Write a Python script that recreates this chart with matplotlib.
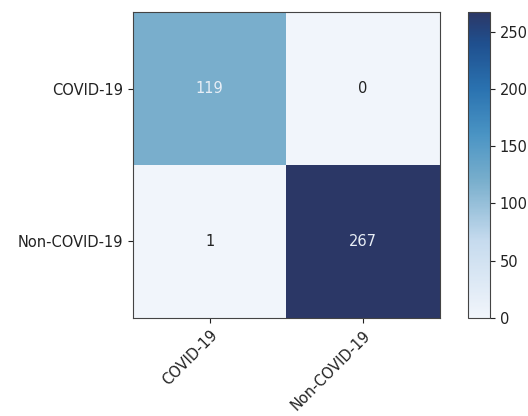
import numpy as np
import matplotlib
matplotlib.use('Agg')
import matplotlib.pyplot as plt
from matplotlib.colors import LinearSegmentedColormap

classes = ['COVID-19', 'Non-COVID-19']
cm = np.array([[119, 0],
               [1, 267]])

# a slightly muted Blues
blues_muted = LinearSegmentedColormap.from_list('blues_muted', [
    (0.0, '#f1f5fb'),
    (0.25, '#c6dbee'),
    (0.45, '#78aecc'),
    (0.6, '#4a94c4'),
    (0.75, '#2a72b0'),
    (0.9, '#1f4f8e'),
    (1.0, '#2b3766'),
])

fig = plt.figure(figsize=(5.28, 4.16), dpi=100)
ax = fig.add_axes([0.252, 0.236, 0.581, 0.735])
cax = fig.add_axes([0.886, 0.236, 0.042, 0.735])

im = ax.imshow(cm, interpolation='nearest', cmap=blues_muted, vmin=0, aspect='auto')
cb = fig.colorbar(im, cax=cax)
cb.set_ticks([0, 50, 100, 150, 200, 250])
cb.ax.tick_params(labelsize=10.5, colors='#222222')
cb.outline.set_edgecolor('#444444')

ax.set_xticks(np.arange(len(classes)))
ax.set_yticks(np.arange(len(classes)))
ax.set_xticklabels(classes, rotation=45, ha='right', rotation_mode='anchor')
ax.set_yticklabels(classes)
ax.tick_params(labelsize=10.5, colors='#222222')
for s in ax.spines.values():
    s.set_edgecolor('#444444')

thresh = cm.max() / 3.
for i in range(cm.shape[0]):
    for j in range(cm.shape[1]):
        ax.text(j, i, format(cm[i, j], 'd'), ha='center', va='center',
                fontsize=10.5,
                color='#e8eef6' if cm[i, j] > thresh else '#222222')

fig.savefig('out.png', dpi=100)
